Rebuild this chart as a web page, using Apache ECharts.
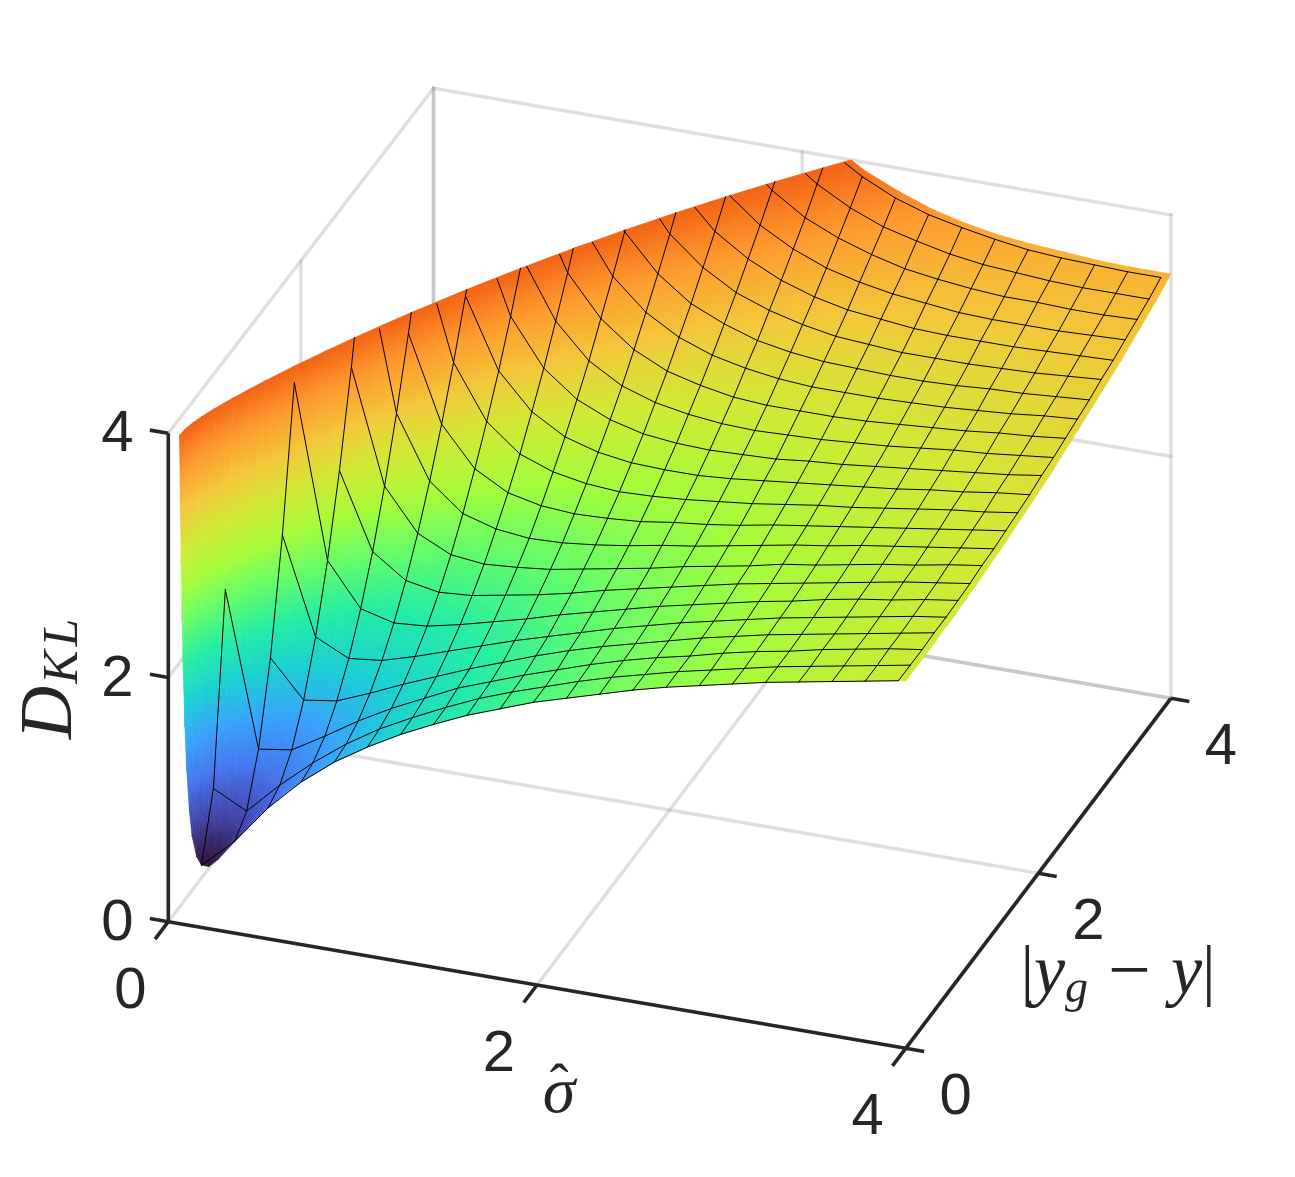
<!DOCTYPE html>
<html>
<head>
<meta charset="utf-8">
<style>html,body{margin:0;padding:0;background:#fff}#main{width:1295px;height:1177px}</style>
<script src="https://cdn.jsdelivr.net/npm/echarts@6/dist/echarts.min.js"></script>
</head>
<body>
<div id="main"></div>
<script>
// values
var sigmaHat = [.0615,.065,.07,.075,.08,.09,.1,.115,.13,.155,.18,.22,.27,.36,.45,.54,.63,.72,.9,1.08,1.26,1.44,1.62,1.8,1.98,2.16,2.265,2.34,2.52,2.7,2.88,3.06,3.24,3.42,3.6,3.78,3.96,4];
var yGap = [0,.045,.09,.18,.27,.36,.45,.54,.63,.72,.81,.9,.99,1.08,1.26,1.44,1.62,1.8,1.98,2.16,2.34,2.52,2.7,2.88,3.06,3.24,3.42,3.6,3.78,3.96,4];
// where the surface reaches the top of the box, one per sigmaHat (none from 2.265 on)
var topEdge = [0,.066,.102,.13,.154,.196,.234,.285,.332,.406,.476,.581,.706,.918,1.117,1.307,1.489,1.664,1.997,2.309,2.605,2.884,3.151,3.402,3.643,3.87];
// one row per sigmaHat, rows stop once the values are far above the box
var dkl = [
[4.00],
[3.49,3.73],
[2.94,3.15,3.77,6.25,10.38],
[2.50,2.67,3.22,5.38],
[2.14,2.30,2.77,4.67,7.84,12.27],
[1.62,1.74,2.12,3.62,6.12],
[1.27,1.37,1.67,2.89,4.91,7.75,11.39],
[.93,1.01,1.24,2.16,3.69,5.83],
[.73,.79,.97,1.69,2.89,4.57,6.73,9.36],
[.57,.61,.74,1.24,2.09,3.26,4.78],
[.51,.54,.63,1.01,1.63,2.51,3.63,5.01,6.63,8.51],
[.51,.53,.59,.84,1.26,1.85,2.60,3.52,4.61,5.87],
[.58,.59,.63,.80,1.08,1.47,1.97,2.58,3.30,4.13,5.08,6.13,7.30],
[.75,.76,.78,.87,1.03,1.25,1.53,1.87,2.28,2.75,3.28,3.87,4.53,5.25,6.87],
[.92,.92,.94,1.00,1.10,1.24,1.42,1.64,1.90,2.20,2.54,2.92,3.34,3.80,4.84,6.04],
[1.07,1.07,1.08,1.13,1.20,1.29,1.42,1.57,1.75,1.96,2.20,2.46,2.75,3.07,3.79,4.63,5.57],
[1.21,1.21,1.22,1.25,1.30,1.37,1.46,1.57,1.71,1.86,2.03,2.23,2.44,2.68,3.21,3.82,4.51,5.29],
[1.33,1.33,1.34,1.36,1.40,1.45,1.52,1.61,1.71,1.83,1.96,2.11,2.27,2.45,2.86,3.33,3.86,4.45,5.11,5.83],
[1.54,1.54,1.54,1.56,1.58,1.62,1.66,1.72,1.78,1.86,1.94,2.04,2.14,2.26,2.52,2.82,3.16,3.54,3.96,4.42,4.92,5.46],
[1.71,1.71,1.72,1.73,1.75,1.77,1.80,1.84,1.88,1.94,1.99,2.06,2.13,2.21,2.39,2.60,2.84,3.10,3.39,3.71,4.06,4.44,4.84,5.27],
[1.86,1.86,1.87,1.87,1.89,1.90,1.93,1.95,1.99,2.03,2.07,2.12,2.17,2.23,2.36,2.52,2.69,2.88,3.10,3.33,3.59,3.86,4.16,4.47,4.81,5.17],
[1.99,1.99,2.00,2.00,2.01,2.03,2.04,2.06,2.09,2.12,2.15,2.19,2.23,2.28,2.38,2.49,2.63,2.78,2.94,3.12,3.31,3.53,3.75,3.99,4.25,4.53,4.81,5.12],
[2.11,2.11,2.11,2.12,2.12,2.13,2.15,2.16,2.18,2.21,2.23,2.26,2.30,2.33,2.41,2.50,2.61,2.73,2.86,3.00,3.15,3.32,3.50,3.69,3.89,4.11,4.34,4.58,4.83,5.10],
[2.21,2.21,2.22,2.22,2.23,2.23,2.25,2.26,2.27,2.29,2.32,2.34,2.37,2.39,2.46,2.53,2.62,2.71,2.82,2.93,3.06,3.19,3.34,3.49,3.66,3.83,4.02,4.21,4.42,4.63,4.68],
[2.31,2.31,2.31,2.31,2.32,2.32,2.33,2.35,2.36,2.37,2.39,2.41,2.43,2.46,2.51,2.57,2.64,2.72,2.81,2.90,3.01,3.12,3.24,3.37,3.50,3.65,3.80,3.96,4.13,4.31,4.35],
[2.39,2.39,2.39,2.40,2.40,2.41,2.42,2.43,2.44,2.45,2.46,2.48,2.50,2.52,2.56,2.62,2.68,2.74,2.81,2.89,2.98,3.07,3.18,3.28,3.40,3.52,3.65,3.78,3.93,4.08,4.11],
[2.44,2.44,2.44,2.44,2.45,2.45,2.46,2.47,2.48,2.49,2.50,2.52,2.54,2.55,2.60,2.64,2.70,2.76,2.82,2.90,2.97,3.06,3.15,3.25,3.35,3.46,3.58,3.70,3.83,3.97,4.00],
[2.47,2.47,2.47,2.48,2.48,2.49,2.49,2.50,2.51,2.52,2.53,2.55,2.56,2.58,2.62,2.66,2.71,2.77,2.83,2.90,2.97,3.05,3.14,3.23,3.33,3.43,3.54,3.66,3.78,3.91,3.93],
[2.55,2.55,2.55,2.55,2.55,2.56,2.56,2.57,2.58,2.59,2.60,2.61,2.62,2.64,2.67,2.71,2.75,2.80,2.86,2.91,2.98,3.05,3.12,3.20,3.28,3.37,3.47,3.57,3.67,3.78,3.81],
[2.62,2.62,2.62,2.62,2.62,2.62,2.63,2.64,2.64,2.65,2.66,2.67,2.68,2.70,2.72,2.76,2.80,2.84,2.89,2.94,2.99,3.05,3.12,3.19,3.26,3.34,3.42,3.50,3.60,3.69,3.71],
[2.68,2.68,2.68,2.68,2.68,2.69,2.69,2.70,2.70,2.71,2.72,2.73,2.74,2.75,2.78,2.81,2.84,2.88,2.92,2.96,3.01,3.06,3.12,3.18,3.24,3.31,3.39,3.46,3.54,3.63,3.64],
[2.74,2.74,2.74,2.74,2.74,2.75,2.75,2.76,2.76,2.77,2.78,2.78,2.79,2.80,2.82,2.85,2.88,2.91,2.95,2.99,3.03,3.08,3.13,3.18,3.24,3.30,3.36,3.43,3.50,3.58,3.59],
[2.80,2.80,2.80,2.80,2.80,2.80,2.81,2.81,2.82,2.82,2.83,2.84,2.84,2.85,2.87,2.90,2.92,2.95,2.98,3.02,3.06,3.10,3.14,3.19,3.24,3.30,3.35,3.41,3.48,3.54,3.56],
[2.85,2.85,2.85,2.85,2.86,2.86,2.86,2.86,2.87,2.87,2.88,2.89,2.89,2.90,2.92,2.94,2.96,2.99,3.02,3.05,3.09,3.12,3.16,3.21,3.25,3.30,3.35,3.41,3.46,3.52,3.54],
[2.90,2.90,2.90,2.90,2.91,2.91,2.91,2.91,2.92,2.92,2.93,2.93,2.94,2.95,2.96,2.98,3.00,3.03,3.05,3.08,3.11,3.15,3.18,3.22,3.26,3.31,3.35,3.40,3.45,3.51,3.52],
[2.95,2.95,2.95,2.95,2.95,2.96,2.96,2.96,2.97,2.97,2.97,2.98,2.99,2.99,3.01,3.02,3.04,3.06,3.09,3.11,3.14,3.17,3.21,3.24,3.28,3.32,3.36,3.40,3.45,3.50,3.51],
[3.00,3.00,3.00,3.00,3.00,3.00,3.00,3.01,3.01,3.01,3.02,3.02,3.03,3.03,3.05,3.06,3.08,3.10,3.12,3.15,3.17,3.20,3.23,3.26,3.30,3.33,3.37,3.41,3.45,3.50,3.51],
[3.01,3.01,3.01,3.01,3.01,3.01,3.01,3.02,3.02,3.02,3.03,3.03,3.04,3.04,3.06,3.07,3.09,3.11,3.13,3.15,3.18,3.21,3.24,3.27,3.30,3.33,3.37,3.41,3.45,3.50,3.51]
];
var sigmaTicks = ['0','2','4'];
var gapTicks = ['0','2','4'];
var klTicks = ['0','2','4'];
var turbo = ['#30123b','#4145ab','#4675ed','#39a2fc','#1bcfd4','#24eca6','#61fc6c','#a4fc3b','#d1e834','#f3c63a','#fe9b2d','#f36315'];

var colorMin = .5, colorMax = 4, zTop = 4, meshStep = .18, meshCut = 5;
var stops = turbo.map(function (c, i) { return {offset: i / (turbo.length - 1), color: c}; });

// view of the box
function project(s, d, z) {
    return [168.3 + 184.35 * s + 66.3 * d, 921.7 + 31.65 * s - 87.5 * d - 122.1 * z + .31 * d * z];
}
function onMesh(v) {
    var k = v / meshStep;
    return Math.abs(k - Math.round(k)) < 1e-6;
}
function flatColor(v) {
    var t = Math.max(0, Math.min(1, (v - colorMin) / (colorMax - colorMin))) * (turbo.length - 1);
    return turbo[Math.round(t)];
}
function shade(pts, vals) {
    // colour follows the height, so each facet gets a straight gradient
    var x1 = pts[1][0] - pts[0][0], y1 = pts[1][1] - pts[0][1], v1 = vals[1] - vals[0];
    var x2 = pts[2][0] - pts[0][0], y2 = pts[2][1] - pts[0][1], v2 = vals[2] - vals[0];
    var det = x1 * y2 - x2 * y1;
    if (Math.abs(det) < 1) return flatColor((vals[0] + vals[1] + vals[2]) / 3);
    var gx = (v1 * y2 - v2 * y1) / det, gy = (x1 * v2 - x2 * v1) / det, g2 = gx * gx + gy * gy;
    if (g2 < 1e-9) return flatColor(vals[0]);
    var a = (colorMin - vals[0]) / g2, b = (colorMax - vals[0]) / g2;
    return new echarts.graphic.LinearGradient(pts[0][0] + a * gx, pts[0][1] + a * gy, pts[0][0] + b * gx, pts[0][1] + b * gy, stops, true);
}
// the part of one sigmaHat row that lies inside the box
function rowNodes(i) {
    var out = [];
    yGap.forEach(function (d, j) {
        var v = dkl[i][j];
        if (v !== undefined && v <= zTop) out.push([sigmaHat[i], d, v]);
    });
    var e = topEdge[i];
    if (e !== undefined && e > out[out.length - 1][1]) out.push([sigmaHat[i], e, zTop]);
    return out;
}

function surfaceItem(params, api) {
    var kids = [];
    function addTri(tri) {
        var pts = tri.map(function (q) { return api.coord(project(q[0], q[1], q[2])); });
        var fill = shade(pts, tri.map(function (q) { return q[2]; }));
        kids.push({type: 'polygon', shape: {points: pts}, style: {fill: fill, stroke: fill, lineWidth: .7}});
    }
    for (var i = 0; i < sigmaHat.length - 1; i++) {
        var L = rowNodes(i), R = rowNodes(i + 1), a = 0, b = 0, strip = [];
        while (a < L.length - 1 || b < R.length - 1) {
            if (b >= R.length - 1 || (a < L.length - 1 && L[a + 1][1] <= R[b + 1][1])) {
                strip.push([L[a], R[b], L[a + 1]]);
                a++;
            } else {
                strip.push([L[a], R[b], R[b + 1]]);
                b++;
            }
        }
        strip.reverse().forEach(addTri);
    }
    return {type: 'group', children: kids};
}

function meshItem(params, api) {
    var kids = [];
    function seg(p, q) {
        // p and q are [s, d, v]; the line stops at the top of the box
        if (p[2] > zTop && q[2] > zTop) return;
        function cut(u, w) {
            if (u[2] <= zTop) return u;
            var t = (zTop - w[2]) / (u[2] - w[2]);
            return [w[0] + t * (u[0] - w[0]), w[1] + t * (u[1] - w[1]), zTop];
        }
        var a = api.coord(project.apply(null, cut(p, q))), b = api.coord(project.apply(null, cut(q, p)));
        kids.push({type: 'line', shape: {x1: a[0], y1: a[1], x2: b[0], y2: b[1]}, style: {stroke: '#000', lineWidth: 1, lineCap: 'round'}});
    }
    function ok(i, j) { var v = dkl[i][j]; return v !== undefined && v <= meshCut; }
    var rows = [], cols = [];
    sigmaHat.forEach(function (s, i) { if (onMesh(s)) rows.push(i); });
    yGap.forEach(function (d, j) { if (onMesh(d)) cols.push(j); });
    rows.forEach(function (i, m) {
        cols.forEach(function (j, n) {
            if (!ok(i, j)) return;
            var here = [sigmaHat[i], yGap[j], dkl[i][j]];
            if (n + 1 < cols.length && ok(i, cols[n + 1])) seg(here, [sigmaHat[i], yGap[cols[n + 1]], dkl[i][cols[n + 1]]]);
            if (m + 1 < rows.length && ok(rows[m + 1], j)) seg(here, [sigmaHat[rows[m + 1]], yGap[j], dkl[rows[m + 1]][j]]);
        });
    });
    return {type: 'group', children: kids};
}

function boxItem(params, api) {
    var kids = [];
    function seg(p, q, color, w) {
        kids.push({type: 'line', shape: {x1: p[0], y1: p[1], x2: q[0], y2: q[1]}, style: {stroke: color, lineWidth: w, lineCap: 'round'}});
    }
    function P(s, d, z) { return api.coord(project(s, d, z)); }
    var light = 'rgba(150,150,150,.3)';
    [2, 4].forEach(function (d) {
        seg(P(0, d, 0), P(4, d, 0), light, 3.5);   // floor
        seg(P(0, d, 0), P(0, d, 4), light, 3.5);   // left wall
    });
    [0, 2, 4].forEach(function (s) {
        seg(P(s, 0, 0), P(s, 4, 0), light, 3.5);
        if (s) seg(P(s, 4, 0), P(s, 4, 4), light, 3.5);
    });
    [2, 4].forEach(function (z) {
        seg(P(0, 0, z), P(0, 4, z), light, 3.5);
        seg(P(0, 4, z), P(4, 4, z), light, 3.5);
    });
    seg(P(0, 4, 0), P(4, 4, 0), light, 3.5);
    seg(P(0, 4, 0), P(0, 4, 4), light, 3.5);
    return {type: 'group', children: kids};
}

function axesItem(params, api) {
    var kids = [], dark = '#262626';
    function P(s, d, z) { return api.coord(project(s, d, z)); }
    function seg(p, q) {
        kids.push({type: 'line', shape: {x1: p[0], y1: p[1], x2: q[0], y2: q[1]}, style: {stroke: dark, lineWidth: 3.6}});
    }
    function label(t, p, dx, dy) {
        kids.push({type: 'text', x: p[0] + dx, y: p[1] + dy, style: {text: t, fill: dark, font: '58px "Liberation Sans"', align: 'center', verticalAlign: 'middle'}});
    }
    seg(P(0, 0, 0), P(4, 0, 0));
    seg(P(4, 0, 0), P(4, 4, 0));
    seg(P(0, 0, 0), P(0, 0, 4));
    klTicks.forEach(function (t) {
        var z = +t;
        seg(P(0, 0, z), P(-.1, 0, z));
        label(t, P(0, 0, z), -51, 2);
    });
    sigmaTicks.forEach(function (t) {
        var s = +t;
        seg(P(s, 0, 0), P(s, -.2, 0));
        label(t, P(s, 0, 0), -38, 70);
    });
    gapTicks.forEach(function (t) {
        var d = +t;
        seg(P(4, d, 0), P(4.1, d, 0));
        label(t, P(4, d, 0), 50, 50);
    });
    var serif = 'italic %px "Liberation Serif"';
    kids.push({type: 'text', x: 559, y: 1095, style: {text: 'σ', fill: dark, font: serif.replace('%', 66), align: 'center', verticalAlign: 'middle'}});
    kids.push({type: 'text', x: 559, y: 1088, style: {text: '\u02c6', fill: dark, font: '56px "Liberation Serif"', align: 'center', verticalAlign: 'middle'}});
    kids.push({type: 'text', x: 1118, y: 975, style: {
        text: '{n||}{v|y}{s|g}{m|−}{v|y}{n||}', align: 'center', verticalAlign: 'middle', fill: dark,
        rich: {
            n: {font: '68px "Liberation Serif"', fill: dark, verticalAlign: 'middle'},
            m: {font: '76px "Liberation Serif"', fill: dark, verticalAlign: 'middle', padding: [0, 20, 0, 20]},
            v: {font: serif.replace('%', 70), fill: dark, verticalAlign: 'middle'},
            s: {font: serif.replace('%', 46), fill: dark, verticalAlign: 'bottom'}
        }
    }});
    kids.push({type: 'text', x: 52, y: 678, rotation: Math.PI / 2, style: {
        text: '{v|D}{s|K}{s|L}', align: 'center', verticalAlign: 'middle', fill: dark,
        rich: {
            v: {font: serif.replace('%', 74), fill: dark, verticalAlign: 'middle'},
            s: {font: serif.replace('%', 50), fill: dark, verticalAlign: 'bottom', padding: [0, 2, 0, 2]}
        }
    }});
    return {type: 'group', children: kids};
}

var chart = echarts.init(document.getElementById('main'), null, {renderer: 'canvas'});
var hiddenAxis = {type: 'value', show: false};
chart.setOption({
    animation: false,
    backgroundColor: '#fff',
    grid: {left: 0, right: 0, top: 0, bottom: 0},
    xAxis: Object.assign({min: 0, max: 1295}, hiddenAxis),
    yAxis: Object.assign({min: 0, max: 1177, inverse: true}, hiddenAxis),
    series: [
        {type: 'custom', silent: true, clip: false, data: [0], renderItem: boxItem, z: 1},
        {type: 'custom', silent: true, clip: false, data: [0], renderItem: surfaceItem, z: 2},
        {type: 'custom', silent: true, clip: false, data: [0], renderItem: meshItem, z: 3},
        {type: 'custom', silent: true, clip: false, data: [0], renderItem: axesItem, z: 4}
    ]
});
</script>
</body>
</html>
